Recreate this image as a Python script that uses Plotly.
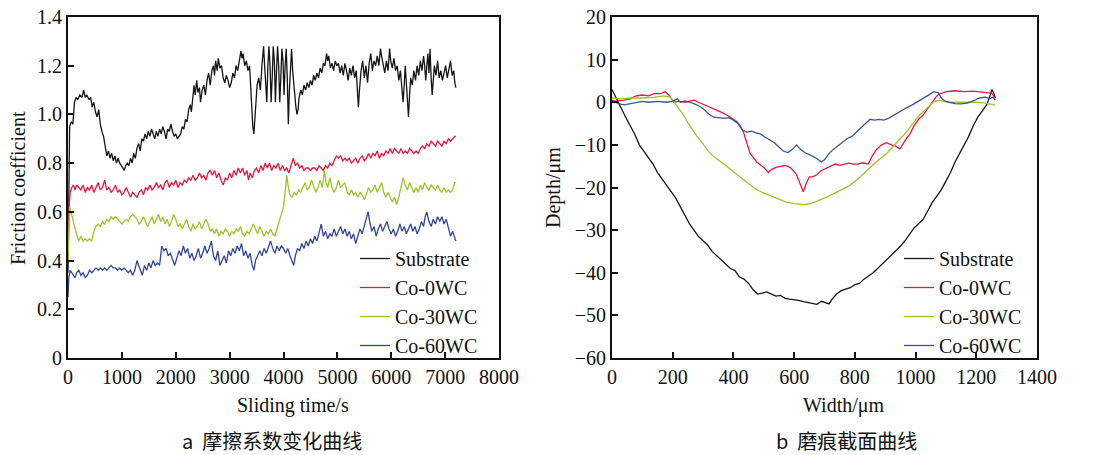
import plotly.graph_objects as go

# ---------------- data: (a) friction coefficient vs sliding time ----------------
series_names = ["Substrate", "Co-0WC", "Co-30WC", "Co-60WC"]

sub_fric = [(0,0.35),(15,0.75),(30,0.95),(60,0.97),(90,0.96),(120,1.05),(150,1.07),(180,1.06),(220,1.08),(260,1.07),(290,1.10),(320,1.07),(350,1.08),(390,1.06),(420,1.07),(450,1.03),(480,1.05),(510,1.01),(540,0.99),(570,1.02),(600,0.96),(630,0.93),(660,0.91),(690,0.87),(720,0.83),(750,0.85),(780,0.82),(810,0.84),(840,0.81),(870,0.83),(900,0.80),(930,0.82),(960,0.80),(990,0.79),(1020,0.78),(1045,0.77),(1070,0.79),(1100,0.80),(1130,0.79),(1160,0.82),(1190,0.80),(1220,0.84),(1250,0.82),(1280,0.86),(1310,0.88),(1340,0.85),(1370,0.90),(1400,0.89),(1430,0.92),(1460,0.90),(1490,0.93),(1520,0.91),(1550,0.94),(1580,0.92),(1610,0.90),(1640,0.93),(1670,0.91),(1700,0.94),(1730,0.92),(1760,0.95),(1790,0.93),(1820,0.90),(1850,0.94),(1880,0.93),(1910,0.96),(1940,0.93),(1970,0.91),(2000,0.92),(2030,0.90),(2060,0.91),(2090,0.92),(2120,0.95),(2150,0.94),(2180,0.98),(2210,0.97),(2240,1.02),(2270,1.04),(2290,1.01),(2320,1.07),(2340,1.12),(2360,1.08),(2390,1.14),(2410,1.09),(2440,1.11),(2460,1.05),(2490,1.10),(2520,1.12),(2550,1.08),(2580,1.14),(2610,1.17),(2640,1.12),(2670,1.18),(2700,1.20),(2720,1.16),(2740,1.22),(2770,1.18),(2790,1.23),(2820,1.19),(2850,1.20),(2880,1.15),(2910,1.13),(2940,1.16),(2970,1.14),(3000,1.11),(3030,1.13),(3060,1.17),(3090,1.15),(3120,1.20),(3150,1.18),(3180,1.22),(3210,1.26),(3230,1.23),(3250,1.25),(3280,1.20),(3310,1.22),(3340,1.18),(3370,1.20),(3390,1.12),(3410,1.02),(3430,0.95),(3450,0.92),(3470,0.98),(3490,1.08),(3510,1.12),(3540,1.15),(3570,1.10),(3600,1.20),(3630,1.28),(3650,1.20),(3670,1.10),(3690,1.05),(3710,1.20),(3730,1.28),(3750,1.20),(3770,1.05),(3790,1.15),(3810,1.28),(3830,1.22),(3850,1.05),(3870,1.18),(3890,1.28),(3910,1.20),(3930,1.05),(3950,1.15),(3970,1.27),(3990,1.22),(4010,1.08),(4030,1.20),(4050,1.27),(4070,1.15),(4090,0.96),(4110,1.10),(4130,1.22),(4150,1.27),(4170,1.18),(4190,1.12),(4210,1.08),(4230,1.03),(4250,1.00),(4270,1.02),(4290,1.07),(4320,1.10),(4350,1.08),(4380,1.12),(4410,1.10),(4440,1.13),(4470,1.11),(4500,1.14),(4530,1.12),(4560,1.16),(4590,1.14),(4620,1.17),(4650,1.15),(4680,1.19),(4710,1.17),(4740,1.21),(4770,1.20),(4800,1.25),(4820,1.22),(4840,1.24),(4870,1.19),(4900,1.21),(4930,1.18),(4960,1.22),(4990,1.20),(5020,1.21),(5050,1.17),(5080,1.20),(5110,1.16),(5140,1.21),(5170,1.18),(5200,1.14),(5230,1.19),(5260,1.16),(5290,1.20),(5320,1.15),(5350,1.18),(5370,1.10),(5390,1.03),(5410,1.10),(5440,1.18),(5470,1.22),(5500,1.15),(5530,1.20),(5560,1.13),(5590,1.21),(5620,1.25),(5650,1.18),(5680,1.22),(5710,1.20),(5740,1.24),(5770,1.20),(5800,1.27),(5820,1.24),(5850,1.20),(5880,1.17),(5910,1.22),(5940,1.18),(5970,1.27),(5990,1.22),(6020,1.19),(6050,1.23),(6080,1.18),(6110,1.20),(6140,1.14),(6170,1.18),(6200,1.10),(6220,1.05),(6240,1.12),(6260,1.20),(6280,1.13),(6300,1.05),(6320,0.99),(6340,1.08),(6360,1.15),(6390,1.12),(6420,1.18),(6450,1.14),(6480,1.20),(6510,1.16),(6540,1.22),(6570,1.18),(6600,1.24),(6620,1.20),(6640,1.14),(6660,1.20),(6680,1.25),(6700,1.17),(6720,1.27),(6740,1.15),(6760,1.08),(6780,1.14),(6800,1.20),(6830,1.16),(6860,1.22),(6890,1.15),(6920,1.18),(6950,1.14),(6980,1.17),(7010,1.20),(7040,1.15),(7070,1.18),(7100,1.22),(7130,1.16),(7160,1.18),(7180,1.13),(7200,1.11)]

co0_fric = [(0,0.40),(20,0.62),(40,0.68),(70,0.70),(100,0.71),(130,0.69),(160,0.71),(200,0.70),(240,0.69),(280,0.71),(320,0.68),(360,0.70),(400,0.69),(440,0.71),(480,0.68),(520,0.70),(560,0.72),(600,0.69),(640,0.70),(680,0.73),(720,0.69),(760,0.70),(800,0.68),(840,0.69),(880,0.71),(920,0.68),(960,0.69),(1000,0.67),(1040,0.68),(1080,0.70),(1120,0.68),(1160,0.66),(1200,0.68),(1240,0.67),(1280,0.66),(1320,0.68),(1360,0.69),(1400,0.67),(1440,0.70),(1480,0.69),(1520,0.71),(1560,0.69),(1600,0.70),(1640,0.72),(1680,0.70),(1720,0.71),(1760,0.69),(1800,0.72),(1840,0.73),(1880,0.70),(1920,0.72),(1960,0.71),(2000,0.73),(2040,0.70),(2080,0.72),(2120,0.71),(2160,0.73),(2200,0.72),(2240,0.74),(2280,0.73),(2320,0.75),(2360,0.73),(2400,0.74),(2440,0.76),(2480,0.74),(2520,0.75),(2560,0.73),(2600,0.76),(2640,0.77),(2680,0.75),(2720,0.77),(2760,0.74),(2800,0.76),(2840,0.73),(2880,0.71),(2920,0.74),(2960,0.73),(3000,0.76),(3040,0.74),(3080,0.77),(3120,0.75),(3160,0.78),(3200,0.76),(3240,0.78),(3280,0.75),(3320,0.77),(3350,0.73),(3380,0.76),(3420,0.74),(3460,0.77),(3500,0.78),(3540,0.76),(3580,0.79),(3620,0.77),(3660,0.80),(3700,0.78),(3740,0.80),(3780,0.77),(3820,0.79),(3860,0.78),(3900,0.80),(3940,0.77),(3980,0.79),(4020,0.77),(4060,0.78),(4100,0.76),(4140,0.79),(4180,0.82),(4220,0.79),(4260,0.80),(4300,0.78),(4340,0.79),(4380,0.77),(4420,0.78),(4460,0.78),(4500,0.77),(4540,0.78),(4580,0.78),(4620,0.77),(4660,0.79),(4700,0.78),(4740,0.77),(4780,0.79),(4820,0.78),(4860,0.80),(4900,0.79),(4940,0.81),(4980,0.83),(5020,0.82),(5060,0.83),(5100,0.81),(5140,0.82),(5180,0.81),(5220,0.82),(5260,0.80),(5300,0.81),(5340,0.82),(5380,0.80),(5420,0.82),(5460,0.83),(5500,0.81),(5540,0.82),(5580,0.84),(5620,0.82),(5660,0.84),(5700,0.83),(5740,0.85),(5780,0.82),(5820,0.84),(5860,0.83),(5900,0.85),(5940,0.84),(5980,0.86),(6020,0.84),(6060,0.86),(6100,0.85),(6140,0.84),(6180,0.86),(6220,0.84),(6260,0.85),(6300,0.84),(6340,0.86),(6380,0.85),(6420,0.84),(6460,0.85),(6500,0.84),(6540,0.86),(6580,0.87),(6620,0.86),(6660,0.88),(6700,0.87),(6740,0.89),(6780,0.88),(6820,0.87),(6860,0.89),(6900,0.88),(6940,0.87),(6980,0.89),(7020,0.88),(7060,0.90),(7100,0.89),(7140,0.90),(7180,0.91),(7200,0.91)]

co30_fric = [(0,0.40),(15,0.58),(30,0.62),(50,0.60),(80,0.58),(110,0.55),(140,0.52),(170,0.50),(200,0.48),(240,0.50),(280,0.48),(320,0.49),(360,0.48),(400,0.49),(440,0.48),(480,0.52),(520,0.54),(560,0.55),(600,0.54),(640,0.56),(680,0.55),(720,0.57),(760,0.56),(800,0.58),(840,0.57),(880,0.58),(920,0.57),(960,0.56),(1000,0.55),(1040,0.56),(1080,0.57),(1120,0.56),(1160,0.58),(1200,0.59),(1240,0.58),(1280,0.57),(1320,0.55),(1360,0.56),(1400,0.58),(1440,0.56),(1480,0.54),(1520,0.56),(1560,0.58),(1600,0.55),(1640,0.57),(1680,0.59),(1720,0.56),(1760,0.58),(1800,0.55),(1840,0.57),(1880,0.54),(1920,0.56),(1960,0.59),(2000,0.57),(2040,0.54),(2080,0.55),(2120,0.53),(2160,0.55),(2200,0.57),(2240,0.54),(2280,0.52),(2320,0.55),(2360,0.53),(2400,0.54),(2440,0.56),(2480,0.53),(2520,0.55),(2560,0.57),(2600,0.55),(2640,0.52),(2680,0.53),(2720,0.51),(2760,0.53),(2800,0.50),(2840,0.52),(2880,0.51),(2920,0.53),(2960,0.52),(3000,0.50),(3040,0.52),(3080,0.51),(3120,0.53),(3160,0.52),(3200,0.54),(3240,0.51),(3280,0.50),(3320,0.52),(3360,0.51),(3400,0.53),(3440,0.55),(3480,0.53),(3520,0.51),(3560,0.54),(3600,0.52),(3640,0.50),(3680,0.52),(3720,0.51),(3760,0.53),(3800,0.51),(3840,0.50),(3880,0.53),(3920,0.55),(3960,0.58),(4000,0.62),(4030,0.68),(4060,0.75),(4090,0.70),(4120,0.67),(4160,0.66),(4200,0.68),(4240,0.67),(4280,0.69),(4320,0.68),(4360,0.70),(4400,0.72),(4440,0.69),(4480,0.70),(4520,0.73),(4560,0.70),(4600,0.68),(4640,0.70),(4680,0.73),(4720,0.70),(4760,0.77),(4790,0.72),(4820,0.70),(4860,0.74),(4900,0.70),(4940,0.68),(4980,0.70),(5020,0.73),(5060,0.70),(5100,0.71),(5140,0.72),(5180,0.68),(5220,0.67),(5260,0.69),(5300,0.67),(5340,0.68),(5380,0.66),(5420,0.68),(5460,0.67),(5500,0.65),(5540,0.68),(5580,0.70),(5620,0.68),(5660,0.69),(5700,0.71),(5740,0.68),(5780,0.70),(5820,0.72),(5860,0.68),(5900,0.66),(5940,0.68),(5980,0.66),(6020,0.64),(6060,0.66),(6100,0.63),(6140,0.66),(6180,0.70),(6220,0.74),(6260,0.71),(6300,0.69),(6340,0.72),(6380,0.70),(6420,0.68),(6460,0.70),(6500,0.68),(6540,0.71),(6580,0.69),(6620,0.72),(6660,0.70),(6700,0.69),(6740,0.71),(6780,0.70),(6820,0.69),(6860,0.71),(6900,0.69),(6940,0.68),(6980,0.70),(7020,0.68),(7060,0.69),(7100,0.68),(7140,0.69),(7180,0.72),(7200,0.72)]

co60_fric = [(0,0.25),(15,0.33),(40,0.36),(70,0.35),(100,0.34),(130,0.33),(160,0.35),(200,0.36),(240,0.34),(280,0.35),(320,0.33),(360,0.34),(400,0.36),(440,0.35),(480,0.36),(520,0.37),(560,0.36),(600,0.37),(640,0.36),(680,0.37),(720,0.36),(760,0.37),(800,0.38),(840,0.37),(880,0.37),(920,0.36),(960,0.37),(1000,0.36),(1040,0.37),(1080,0.36),(1120,0.35),(1160,0.36),(1200,0.34),(1240,0.36),(1280,0.40),(1310,0.38),(1340,0.36),(1380,0.34),(1420,0.38),(1460,0.36),(1500,0.39),(1540,0.37),(1580,0.40),(1620,0.38),(1660,0.39),(1700,0.38),(1740,0.46),(1780,0.44),(1820,0.45),(1860,0.42),(1900,0.43),(1940,0.40),(1980,0.38),(2020,0.41),(2060,0.44),(2100,0.42),(2140,0.46),(2180,0.43),(2220,0.45),(2260,0.41),(2300,0.43),(2340,0.40),(2380,0.42),(2420,0.45),(2460,0.41),(2500,0.43),(2540,0.46),(2580,0.43),(2620,0.45),(2660,0.48),(2700,0.42),(2740,0.40),(2780,0.44),(2820,0.38),(2860,0.40),(2900,0.42),(2940,0.39),(2980,0.44),(3020,0.42),(3060,0.45),(3100,0.43),(3140,0.46),(3180,0.44),(3220,0.47),(3260,0.42),(3300,0.44),(3340,0.41),(3380,0.43),(3420,0.38),(3450,0.36),(3480,0.40),(3520,0.42),(3560,0.44),(3600,0.42),(3640,0.45),(3680,0.43),(3720,0.46),(3760,0.48),(3800,0.45),(3840,0.43),(3880,0.46),(3920,0.44),(3960,0.46),(4000,0.45),(4040,0.43),(4080,0.45),(4120,0.42),(4160,0.40),(4190,0.38),(4220,0.42),(4260,0.45),(4300,0.44),(4340,0.47),(4380,0.45),(4420,0.48),(4460,0.46),(4500,0.49),(4540,0.47),(4580,0.50),(4620,0.48),(4660,0.52),(4700,0.55),(4740,0.50),(4780,0.52),(4820,0.49),(4860,0.51),(4900,0.50),(4940,0.53),(4980,0.50),(5020,0.52),(5060,0.54),(5100,0.51),(5140,0.53),(5180,0.50),(5220,0.52),(5260,0.49),(5300,0.51),(5340,0.47),(5380,0.50),(5420,0.53),(5460,0.51),(5500,0.54),(5540,0.57),(5570,0.60),(5600,0.56),(5640,0.52),(5680,0.54),(5720,0.50),(5760,0.53),(5800,0.55),(5840,0.52),(5880,0.54),(5920,0.56),(5960,0.53),(6000,0.51),(6040,0.53),(6080,0.50),(6120,0.52),(6160,0.55),(6200,0.52),(6240,0.54),(6280,0.51),(6320,0.53),(6360,0.55),(6400,0.52),(6440,0.54),(6480,0.51),(6520,0.53),(6560,0.56),(6600,0.54),(6630,0.58),(6660,0.60),(6700,0.56),(6740,0.54),(6780,0.57),(6820,0.55),(6860,0.58),(6900,0.56),(6940,0.58),(6980,0.55),(7020,0.57),(7060,0.53),(7100,0.50),(7140,0.52),(7180,0.49),(7200,0.48)]

# ---------------- data: (b) wear-track cross-section profiles ----------------
sub_prof = [(0,3),(10,1.5),(20,0),(30,-1.5),(45,-3.5),(60,-5.5),(75,-7.5),(90,-10),(105,-11.5),(120,-13),(135,-14.5),(150,-16.5),(165,-18),(180,-19.5),(195,-21),(210,-22.5),(225,-24.5),(240,-26.5),(255,-28.5),(270,-30),(285,-31.5),(300,-32.5),(315,-33.5),(330,-35),(345,-36),(360,-37),(375,-38),(390,-39),(405,-39.5),(420,-41),(435,-41.5),(450,-42.5),(465,-44),(480,-45),(495,-44.8),(510,-44.5),(525,-45),(540,-45.5),(555,-45.3),(570,-46),(585,-46.2),(600,-46.3),(615,-46.5),(630,-46.8),(645,-47),(660,-47.2),(675,-47.4),(690,-46.7),(705,-47),(715,-47.3),(725,-46.2),(740,-45),(755,-44.2),(770,-43.8),(785,-43.5),(800,-42.8),(815,-42.5),(830,-41.5),(845,-40.8),(860,-40),(875,-39),(890,-38),(905,-37),(920,-36),(935,-35),(950,-33.8),(965,-32.5),(980,-31),(995,-29.5),(1010,-28.5),(1025,-27.5),(1040,-25.5),(1055,-23.5),(1070,-22),(1085,-20.5),(1100,-18.5),(1115,-16.5),(1130,-14),(1145,-12),(1160,-10),(1175,-8),(1190,-5.5),(1205,-3.5),(1220,-2),(1235,-0.5),(1245,1.5),(1252,3),(1258,2),(1263,1)]

co0_prof = [(0,0.2),(20,0.3),(40,0.5),(60,0.8),(80,1.5),(100,1.7),(120,1.5),(140,2),(160,2),(175,2.5),(190,1.5),(203,0),(220,0.2),(240,0),(255,0.3),(270,0.5),(285,0),(302,-0.5),(320,-1),(334,-1.5),(350,-2),(365,-2.5),(378,-3),(395,-3.8),(411,-4.5),(422,-5.5),(433,-7),(444,-9.5),(455,-12),(466,-13),(477,-14),(490,-14.8),(503,-15.5),(515,-16.5),(525,-15.8),(540,-15.3),(555,-15),(570,-14.8),(585,-15.2),(597,-16),(608,-17),(620,-19),(630,-21),(640,-19),(650,-17.5),(662,-17.5),(674,-17),(690,-16),(705,-15.5),(718,-15),(735,-14.5),(750,-14.8),(765,-14.5),(780,-14.3),(795,-14.5),(810,-14.5),(825,-14.2),(844,-14.5),(858,-12.5),(872,-11),(888,-10),(905,-9.5),(920,-10),(935,-10.3),(948,-11),(960,-9.5),(970,-8.5),(981,-7.5),(995,-5.5),(1010,-4),(1025,-3),(1040,-1.5),(1050,-0.5),(1058,0),(1070,1.5),(1080,2),(1090,2.3),(1102,2.5),(1130,2.7),(1160,2.5),(1190,2.6),(1220,2.4),(1240,2.2),(1252,2),(1262,1)]

co30_prof = [(0,1),(30,0.8),(60,1),(100,1),(140,1.2),(170,1.5),(192,1.2),(210,-0.5),(225,-1.8),(236,-3),(250,-4.8),(265,-6.5),(280,-8),(295,-9.3),(310,-10.8),(323,-12),(340,-13),(360,-14),(378,-15),(400,-16.3),(422,-17.5),(445,-18.8),(466,-20),(490,-21),(510,-21.6),(530,-22.2),(555,-23),(576,-23.5),(600,-23.8),(630,-24),(655,-23.8),(685,-23),(705,-22.3),(729,-21.5),(755,-20.5),(784,-19.5),(810,-18),(839,-16),(870,-14),(905,-12),(935,-9.5),(950,-8.5),(970,-7),(990,-5),(1014,-3),(1035,-1.5),(1050,-0.5),(1058,0),(1075,0.5),(1090,0.3),(1110,0),(1140,0),(1170,0),(1200,0),(1230,-0.2),(1250,-0.5),(1262,-0.7)]

co60_prof = [(0,0.5),(20,-0.3),(40,-0.6),(60,-0.3),(80,0),(100,0.2),(120,0),(150,0.2),(180,0),(200,0.2),(215,0.8),(225,0),(240,0.3),(258,0),(275,-0.5),(290,-1),(305,-1.8),(320,-2.8),(335,-3.5),(350,-3.6),(370,-3.8),(385,-3.6),(400,-4.2),(415,-5),(430,-6.5),(444,-7),(460,-6.8),(475,-7.2),(490,-7.5),(505,-8.2),(520,-8.8),(535,-9.5),(550,-10.5),(565,-11.5),(580,-11.8),(595,-11),(608,-10),(620,-11),(635,-11.8),(650,-12.3),(665,-12.8),(680,-13.5),(690,-14),(700,-13.5),(715,-12),(730,-11),(745,-10.2),(760,-9.5),(775,-8.5),(790,-8),(805,-7),(820,-5.8),(835,-5),(850,-4),(865,-4.2),(880,-4),(895,-4.2),(910,-3.8),(925,-3.2),(940,-2.5),(955,-2),(970,-1.3),(985,-0.8),(1000,-0.2),(1015,0.5),(1030,1.2),(1045,1.8),(1060,2.5),(1075,2.2),(1085,1),(1095,0.3),(1110,0),(1130,-0.3),(1150,-0.4),(1170,-0.2),(1190,0.3),(1210,1),(1230,1.2),(1245,0.8),(1255,1.2),(1262,0.5)]

# ticks / labels
fric_xticks = [0, 1000, 2000, 3000, 4000, 5000, 6000, 7000, 8000]
fric_yticks = [0, 0.2, 0.4, 0.6, 0.8, 1.0, 1.2, 1.4]
fric_ytext = ["0", "0.2", "0.4", "0.6", "0.8", "1.0", "1.2", "1.4"]
prof_xticks = [0, 200, 400, 600, 800, 1000, 1200, 1400]
prof_yticks = [20, 10, 0, -10, -20, -30, -40, -50, -60]

colors = ["#151515", "#e8173f", "#9ac52c", "#34449a"]
colors_b = ["#151515", "#e8173f", "#9ac52c", "#3a5590"]

SERIF = "Liberation Serif, Times New Roman, serif"
CJK = "Noto Sans CJK SC"

fig = go.Figure()

fric_sets = [sub_fric, co0_fric, co30_fric, co60_fric]
prof_sets = [sub_prof, co0_prof, co30_prof, co60_prof]

for i in range(4):
    xs, ys = zip(*fric_sets[i])
    fig.add_trace(go.Scatter(x=list(xs), y=list(ys), mode="lines", name=series_names[i],
                             line=dict(color=colors[i], width=1.3), xaxis="x", yaxis="y",
                             legend="legend", legendrank=i + 1))
for i in range(4):
    xs, ys = zip(*prof_sets[i])
    fig.add_trace(go.Scatter(x=list(xs), y=list(ys), mode="lines", name=series_names[i],
                             line=dict(color=colors_b[i], width=1.3), xaxis="x2", yaxis="y2",
                             legend="legend2", legendrank=i + 1))

# the page body margin is removed below, so the figure fills the whole window
W, H = 1097, 455
def px(x):
    return x / W
def py(y):
    return 1 - y / H

axis_common = dict(showline=True, linecolor="#111", linewidth=1.8, mirror=True,
                   ticks="inside", ticklen=6, tickwidth=1.5, tickcolor="#111",
                   showgrid=False, zeroline=False, automargin=False,
                   ticklabeloverflow="allow",
                   tickfont=dict(family=SERIF, size=20, color="#111"))

fig.update_layout(
    width=W, height=H,
    margin=dict(l=0, r=0, t=0, b=0),
    paper_bgcolor="white", plot_bgcolor="white",
    showlegend=True,
    xaxis=dict(domain=[px(68), px(499)], range=[0, 8000], tickvals=fric_xticks,
               anchor="y", **axis_common),
    yaxis=dict(domain=[py(358), py(17)], range=[0, 1.4], tickvals=fric_yticks,
               ticktext=fric_ytext, anchor="x", **axis_common),
    xaxis2=dict(domain=[px(612), px(1037)], range=[0, 1400], tickvals=prof_xticks,
                anchor="y2", **axis_common),
    yaxis2=dict(domain=[py(358), py(17)], range=[-60, 20], tickvals=prof_yticks,
                anchor="x2", **axis_common),
    legend=dict(x=px(355), y=py(239), xanchor="left", yanchor="top",
                bgcolor="rgba(0,0,0,0)", borderwidth=0,
                font=dict(family=SERIF, size=20, color="#111"), tracegroupgap=0),
    legend2=dict(x=px(899), y=py(239), xanchor="left", yanchor="top",
                 bgcolor="rgba(0,0,0,0)", borderwidth=0,
                 font=dict(family=SERIF, size=20, color="#111"), tracegroupgap=0),
)

ann_font = dict(family=SERIF, size=20, color="#111")
annotations = [
    dict(text="Friction coefficient", x=px(18), y=py(188), textangle=-90, font=ann_font),
    dict(text="Sliding time/s", x=px(293), y=py(405), font=ann_font),
    dict(text="Depth/μm", x=px(553), y=py(188), textangle=-90, font=ann_font),
    dict(text="Width/μm", x=px(843), y=py(405), font=ann_font),
    dict(text="a  摩擦系数变化曲线", x=px(272), y=py(440),
         font=dict(family=CJK, size=20, color="#111")),
    dict(text="b  磨痕截面曲线", x=px(846), y=py(440),
         font=dict(family=CJK, size=20, color="#111")),
]
for a in annotations:
    a.update(xref="paper", yref="paper", showarrow=False, xanchor="center", yanchor="middle")
fig.update_layout(annotations=annotations)

fig.write_html("out.html",
               config={"displayModeBar": False},
               post_script="document.body.style.margin='0';document.body.style.overflow='hidden';")
